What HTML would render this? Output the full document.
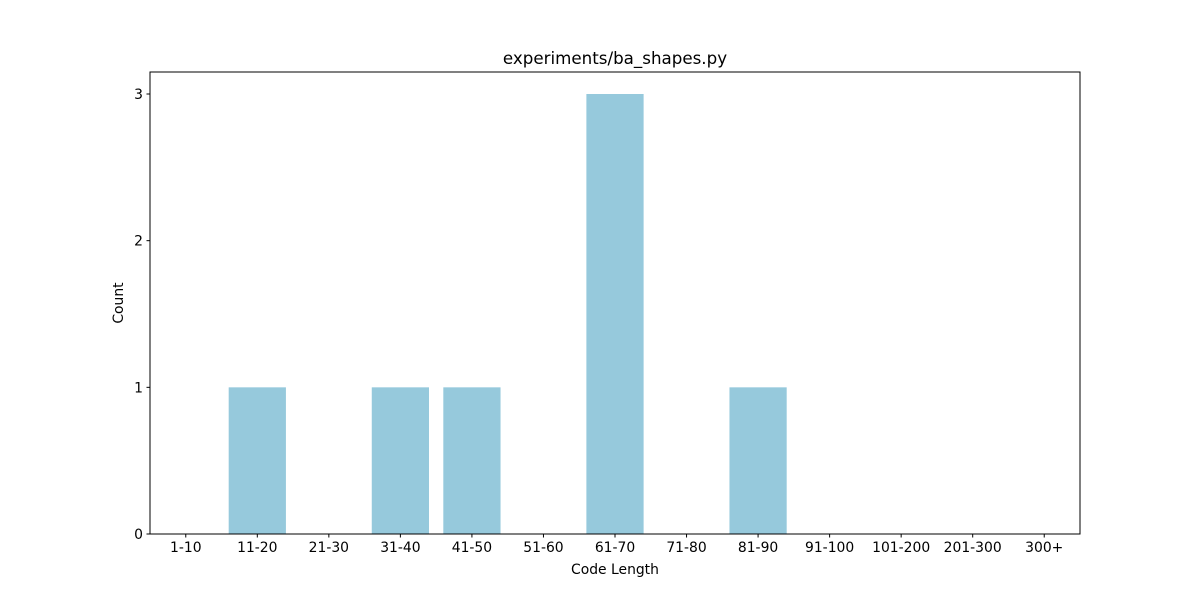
<!DOCTYPE html>
<html><head><meta charset="utf-8"><style>
html,body{margin:0;padding:0;background:#fff;}
svg{display:block;font-family:"DejaVu Sans","Liberation Sans",sans-serif;}
</style></head><body>
<svg id="chart" width="1200" height="600"></svg>
<script>
const categories=["1-10","11-20","21-30","31-40","41-50","51-60","61-70","71-80","81-90","91-100","101-200","201-300","300+"];
const counts=[0,1,0,1,1,0,3,0,1,0,0,0,0];
const yTicks=[0,1,2,3];
const L=150,R=1080,T=72,B=534;
const NS="http://www.w3.org/2000/svg";
const svg=document.getElementById('chart');
const xMin=-0.5,xMax=categories.length-0.5,yMax=3.15;
const xs=v=>L+(v-xMin)/(xMax-xMin)*(R-L);
const ys=v=>B-v/yMax*(B-T);
function mk(tag,attrs,txt){const e=document.createElementNS(NS,tag);for(const k in attrs)e.setAttribute(k,attrs[k]);if(txt!==undefined)e.textContent=txt;svg.appendChild(e);return e;}
counts.forEach((c,i)=>{
  const h=B-ys(c);
  const r=mk('rect',{x:xs(i-0.4),y:ys(c),width:xs(0.4)-xs(-0.4),height:h,fill:'#96c9dc'});
  
  
});
const frame=mk('rect',{x:L,y:T,width:R-L,height:B-T,fill:'none',stroke:'#000','stroke-width':1});


categories.forEach((c,i)=>{
  const x=xs(i);
  mk('line',{x1:x,x2:x,y1:B,y2:B+3.5,stroke:'#000'});
  const t=mk('text',{x:x,y:B+18,'text-anchor':'middle','font-size':13.9},c);
  
  
});
yTicks.forEach(v=>{
  const y=ys(v);
  mk('line',{x1:L-3.5,x2:L,y1:y,y2:y,stroke:'#000'});
  const t=mk('text',{x:L-7,y:y+5,'text-anchor':'end','font-size':13.9},v);
  
  
});
const xt=mk('text',{x:(L+R)/2,y:574,'text-anchor':'middle','font-size':13.9},'Code Length');


const yt=mk('text',{x:123,y:(T+B)/2,'text-anchor':'middle','font-size':13.9,transform:'rotate(-90 123 '+((T+B)/2)+')'},'Count');


const ti=mk('text',{x:(L+R)/2,y:64,'text-anchor':'middle','font-size':16.7},'experiments/ba_shapes.py');


</script>
</body></html>
